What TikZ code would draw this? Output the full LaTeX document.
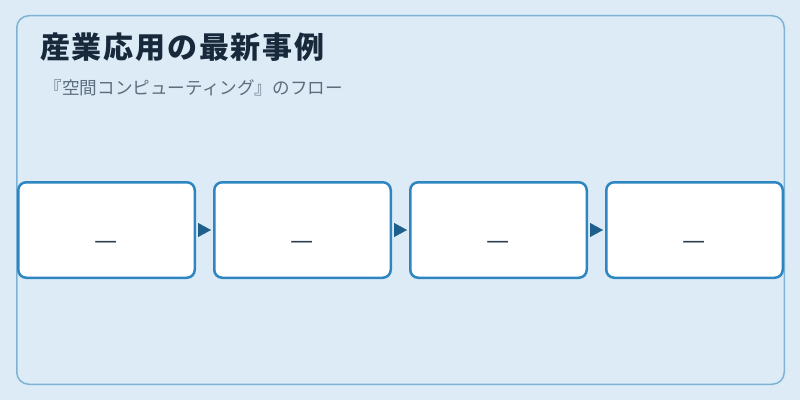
\documentclass[tikz,border=0pt]{standalone}
\usepackage{fontspec}
\setmainfont{Noto Sans CJK JP}
\usetikzlibrary{positioning,arrows.meta}

\definecolor{bgblue}{HTML}{DCEBF6}
\definecolor{panelline}{HTML}{7FB3D5}
\definecolor{boxline}{HTML}{2E86C1}
\definecolor{arrowblue}{HTML}{1F5F8B}
\definecolor{titlecol}{HTML}{17293A}
\definecolor{subcol}{HTML}{5D6D7E}
\definecolor{dashcol}{HTML}{2C3E50}

\tikzset{
    flowbox/.style={draw=boxline, line width=2.5pt, fill=white, rounded corners=8pt,
        minimum width=176.5pt, minimum height=95.5pt, inner sep=0pt,
        font=\fontsize{26}{26}\selectfont, text=dashcol},
    flowarrow/.style={-{Triangle[length=13pt,width=14pt]}, arrowblue,
        shorten <=2pt, shorten >=2pt}
}
% empty step text, set a little below the middle
\newcommand{\stepdash}{\smash{\raisebox{-19pt}{—}}}

\begin{document}
\begin{tikzpicture}[x=1pt,y=1pt]
    \fill[bgblue] (0,0) rectangle (800,400);
    \useasboundingbox (0,0) rectangle (800,400);
    \draw[panelline, line width=1.5pt, rounded corners=12pt] (16.75,15.75) rectangle (784.25,384.25);

    \node[anchor=west, inner sep=0pt, text=titlecol,
        font=\fontsize{30}{30}\selectfont\bfseries\addfontfeature{LetterSpace=6}] (title) at (40,353) {産業応用の最新事例};
    \node[anchor=west, inner sep=0pt, text=subcol,
        font=\fontsize{17.6}{18}\selectfont] (subtitle) at (44.5,312) {『空間コンピューティング』のフロー};

    \node[flowbox] (step1) at (106.5,170) {\stepdash};
    \node[flowbox, right=17pt of step1] (step2) {\stepdash};
    \node[flowbox, right=17pt of step2] (step3) {\stepdash};
    \node[flowbox, right=17pt of step3] (step4) {\stepdash};

    \draw[flowarrow] (step1) -- (step2);
    \draw[flowarrow] (step2) -- (step3);
    \draw[flowarrow] (step3) -- (step4);
\end{tikzpicture}
\end{document}
